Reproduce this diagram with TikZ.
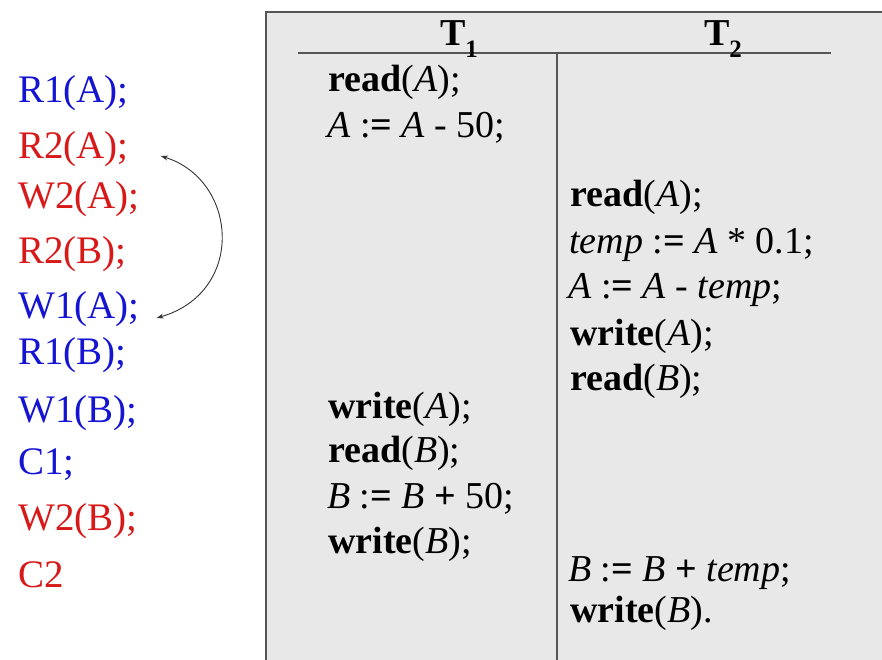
\documentclass[tikz,border=0pt]{standalone}
\usepackage{fontspec}
\setmainfont{Liberation Serif}
\usetikzlibrary{arrows.meta,calc}
\definecolor{opblue}{RGB}{20,20,210}
\definecolor{opred}{RGB}{215,25,25}
\definecolor{boxgray}{RGB}{232,232,232}
\definecolor{rulegray}{RGB}{85,85,85}
\tikzset{
  txt/.style={anchor=base west, inner sep=0pt, font=\fontsize{38}{44}\selectfont},
  hdr/.style={anchor=base, inner sep=0pt, font=\fontsize{38}{44}\selectfont\bfseries},
  t1op/.style={txt, text=opblue, font=\fontsize{39}{44}\selectfont},
  t2op/.style={txt, text=opred, font=\fontsize{39}{44}\selectfont},
  rulel/.style={draw=rulegray, line width=1.8pt},
  conflict/.style={{Stealth[length=7pt,width=5pt]}-{Stealth[length=7pt,width=5pt]}, line width=0.9pt, black!80}
}
\newcommand{\bsx}{\textbf}
\newcommand{\itx}{\textit}
\begin{document}
\begin{tikzpicture}[x=1pt,y=-1pt]
\useasboundingbox (0,0) rectangle (882,660);
% table box
\fill[boxgray] (266,12) rectangle (882,660);
\draw[rulel] (266,660) -- (266,12) -- (882,12);
\draw[rulel, line width=1.5pt] (298,53) -- (831,53);
\draw[rulel, line width=1.5pt] (557,53) -- (557,660);
% headers
\node[hdr] (h1) at (459,46) {T\raisebox{-0.3em}{\fontsize{25}{25}\selectfont 1}};
\node[hdr] (h2) at (723,46) {T\raisebox{-0.3em}{\fontsize{25}{25}\selectfont 2}};
% T1 column
\node[txt] (a1) at (328,92) {\bsx{read}(\itx{A});};
\node[txt] (a2) at (327,138) {\itx{A} :\bsx{=} \itx{A} - 50;};
\node[txt] (a3) at (328,418) {\bsx{write}(\itx{A});};
\node[txt] (a4) at (328,462) {\bsx{read}(\itx{B});};
\node[txt] (a5) at (327,508) {\itx{B} :\bsx{=} \itx{B} \bsx{+} 50;};
\node[txt] (a6) at (328,553) {\bsx{write}(\itx{B});};
% T2 column
\node[txt] (b1) at (570,207) {\bsx{read}(\itx{A});};
\node[txt] (b2) at (569,253) {\itx{temp} :\bsx{=} \itx{A} * 0.1;};
\node[txt] (b3) at (568,298) {\itx{A} :\bsx{=} \itx{A} - \itx{temp};};
\node[txt] (b4) at (570,345) {\bsx{write}(\itx{A});};
\node[txt] (b5) at (570,390) {\bsx{read}(\itx{B});};
\node[txt] (b6) at (568,581) {\itx{B} :\bsx{=} \itx{B} \bsx{+} \itx{temp};};
\node[txt] (b7) at (570,622) {\bsx{write}(\itx{B}).};
% schedule list
\node[t1op] (s1) at (18,103) {R1(A);};
\node[t2op] (s2) at (18,159) {R2(A);};
\node[t2op] (s3) at (18,208) {W2(A);};
\node[t2op] (s4) at (18,263) {R2(B);};
\node[t1op] (s5) at (18,318) {W1(A);};
\node[t1op] (s6) at (18,364) {R1(B);};
\node[t1op] (s7) at (18,422) {W1(B);};
\node[t1op] (s8) at (18,474) {C1;};
\node[t2op] (s9) at (18,530) {W2(B);};
\node[t2op] (s10) at (18,587) {C2};
% conflict arrow
\coordinate (p1) at ($(s2.base east)+(32,-3)$);
\coordinate (p2) at ($(s5.base east)+(17,0)$);
\draw[conflict] (p1) .. controls (238,180) and (246,292) .. (p2);
\end{tikzpicture}
\end{document}
